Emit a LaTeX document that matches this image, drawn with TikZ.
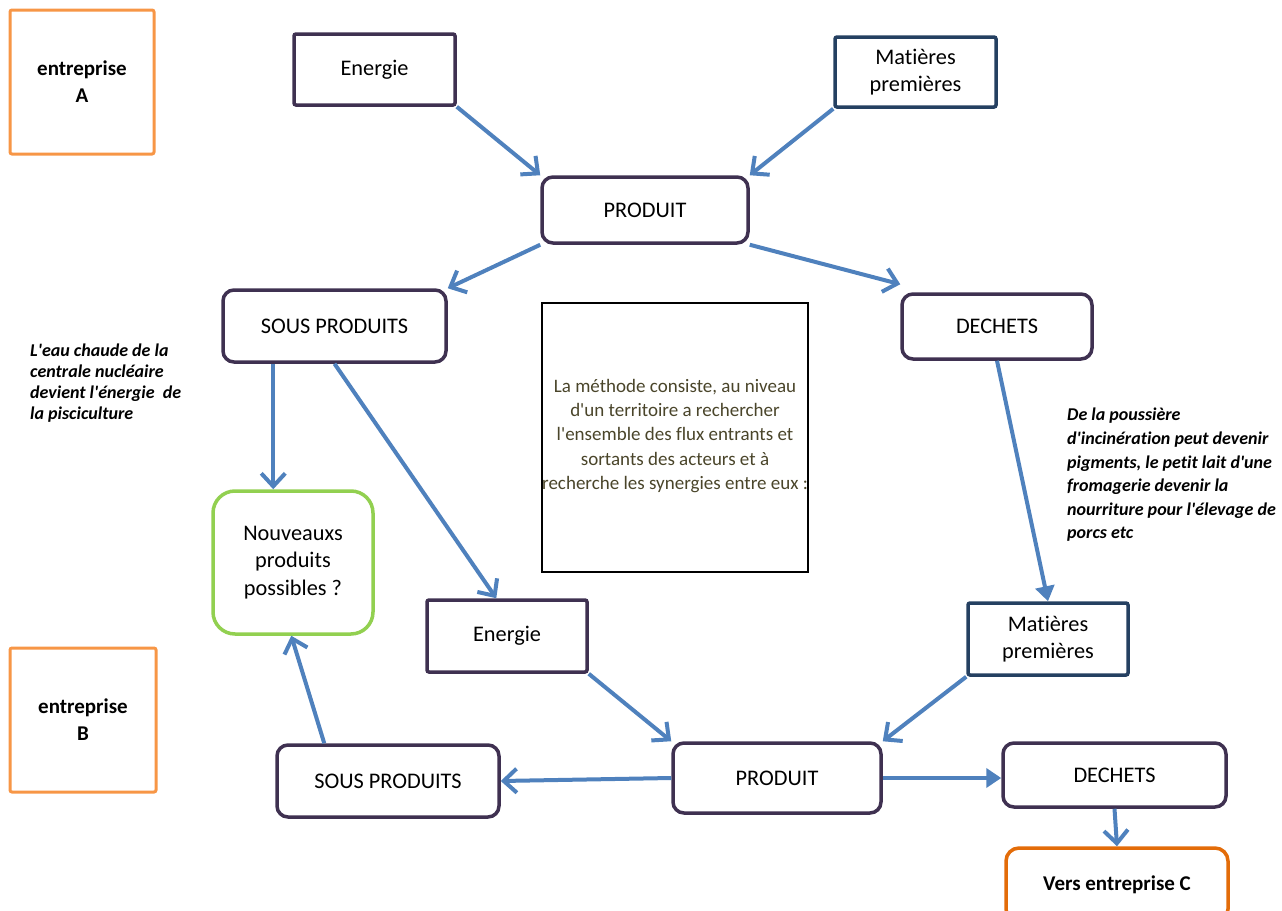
\documentclass[tikz,border=0pt]{standalone}
\usepackage{fontspec}
\setmainfont{Carlito}[Ligatures={TeXOff,NoCommon}]
\usetikzlibrary{arrows.meta,calc}
\definecolor{arrowblue}{HTML}{4F81BD}
\definecolor{darkpurple}{HTML}{3F3151}
\definecolor{darkblue}{HTML}{254061}
\definecolor{lightorange}{HTML}{F79646}
\definecolor{deeporange}{HTML}{E36C09}
\definecolor{limegreen}{HTML}{92D050}
\definecolor{olivetext}{HTML}{4A452A}
\tikzset{
  boxbase/.style={draw, line width=3.5pt, fill=white, inner sep=0pt, align=center, font=\fontsize{22.3}{27.5}\selectfont},
  sqbox/.style={boxbase, draw=darkpurple, rounded corners=2pt},
  matbox/.style={boxbase, draw=darkblue, rounded corners=2pt},
  rbox/.style={boxbase, draw=darkpurple, rounded corners=11pt},
  entbox/.style={boxbase, draw=lightorange, line width=3pt, rounded corners=2pt, font=\fontsize{21}{27}\selectfont\bfseries},
  vcbox/.style={boxbase, draw=deeporange, line width=3.5pt, rounded corners=13pt, font=\fontsize{21}{27}\selectfont\bfseries},
  greenbox/.style={boxbase, draw=limegreen, line width=3.5pt, rounded corners=22pt},
  infobox/.style={draw=black, line width=1.3pt, fill=white, inner sep=0pt},
  infotxt/.style={align=center, inner sep=0pt, text=olivetext, font=\fontsize{19}{24.3}\selectfont},
  note/.style={align=left, inner sep=0pt, anchor=north west},
  flow/.style={draw=arrowblue, line width=4pt, -{Straight Barb[length=13,width=24,line width=4pt]}},
  flowf/.style={draw=arrowblue, line width=4pt, -{Triangle[length=15,width=19]}},
}
\begin{document}
\begin{tikzpicture}[x=1pt,y=-1pt]
\useasboundingbox (0,0) rectangle (1282,910);
% enterprises
\node[entbox, minimum width=144, minimum height=144] (eA) at (82,82) {\raisebox{-2pt}{entreprise}\\\raisebox{-2pt}{A}};
\node[entbox, minimum width=146, minimum height=144] (eB) at (83,720) {entreprise\\B};
% top cycle
\node[sqbox, minimum width=161, minimum height=71] (e1) at (374.5,69.5) {\raisebox{-2pt}{Energie}};
\node[matbox, minimum width=161, minimum height=70] (m1) at (915.5,72) {\raisebox{-2pt}{Matières}\\\raisebox{-2pt}{premières}};
\node[rbox, minimum width=206, minimum height=66] (p1) at (645,210) {PRODUIT};
\node[rbox, minimum width=223, minimum height=72] (s1) at (334.5,326) {SOUS PRODUITS};
\node[rbox, minimum width=190, minimum height=65] (d1) at (997,326.5) {DECHETS};
% central info
\node[infobox, minimum width=266, minimum height=269] (info) at (675,437.5) {};
\node[infotxt] (infotext) at (675,436)
  {La méthode consiste, au niveau\\d\char39un territoire a rechercher\\l\char39ensemble des flux entrants et\\sortants des acteurs et à\\recherche les synergies entre eux :};
% new products
\node[greenbox, minimum width=160, minimum height=143] (n) at (293,562.5) {Nouveauxs\\produits\\possibles ?};
% bottom cycle
\node[sqbox, minimum width=160, minimum height=72] (e2) at (507,636) {\raisebox{-2pt}{Energie}};
\node[matbox, minimum width=160, minimum height=72] (m2) at (1048,639) {Matières\\premières};
\node[rbox, minimum width=222, minimum height=72] (s2) at (388,781) {SOUS PRODUITS};
\node[rbox, minimum width=208, minimum height=70] (p2) at (777,778) {PRODUIT};
\node[rbox, minimum width=223, minimum height=64] (d2) at (1114.5,775) {DECHETS};
\node[vcbox, minimum width=222, minimum height=74] (vc) at (1117,885) {\raisebox{3pt}{Vers entreprise C}};
% notes
\node[note, font=\fontsize{18}{21}\selectfont\bfseries\itshape] (noteL) at (30,344)
  {L\char39eau chaude de la\\centrale nucléaire\\devient l\char39énergie\ \ de\\la pisciculture};
\node[note, font=\fontsize{18}{23.6}\selectfont\bfseries\itshape] (noteR) at (1067,408)
  {De la poussière\\d\char39incinération peut devenir\\pigments, le petit lait d\char39une\\fromagerie devenir la\\nourriture pour l\char39élevage de\\porcs etc};
% connectors
\draw[flow] (e1.south east) -- (p1.north west);
\draw[flow] (m1.south west) -- (p1.north east);
\draw[flow] (p1.south west) -- (s1.north east);
\draw[flow] (p1.south east) -- ([yshift=8]d1.north west);
\draw[flow] ([xshift=52]s1.south west) -- ([xshift=62]n.north west);
\draw[flow] (s1.south) -- ([xshift=71]e2.north west);
\draw[flowf] (d1.south) -- (m2.north);
\draw[flow] (e2.south east) -- (p2.north west);
\draw[flow] (m2.south west) -- (p2.north east);
\draw[flow] ([xshift=49]s2.north west) -- ([xshift=80]n.south west);
\draw[flow] (p2.west) -- (s2.east);
\draw[flowf] (p2.east) -- ([yshift=-3]d2.west);
\draw[flow] (d2.south) -- (vc.north);
\end{tikzpicture}
\end{document}
